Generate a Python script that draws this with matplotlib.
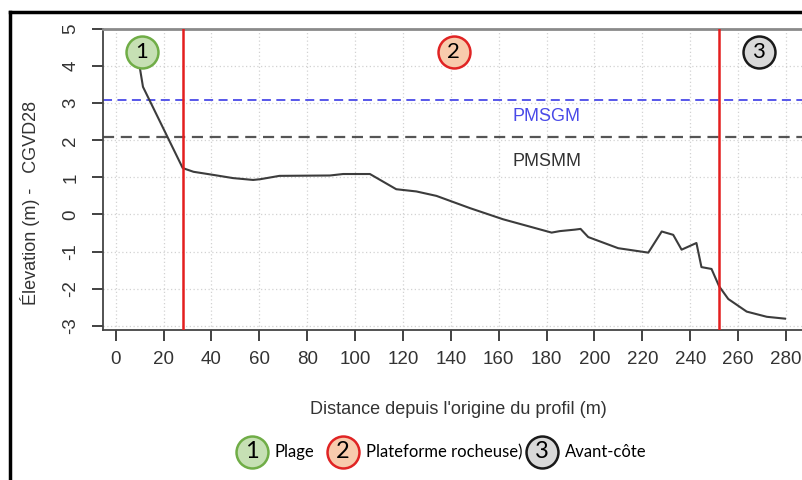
import matplotlib
matplotlib.use("Agg")
import matplotlib.pyplot as plt
from matplotlib.lines import Line2D

# profile
distance = [10.1, 11.4, 28.0, 32.5, 40.4, 49.0, 57.4, 60.4, 68.4, 89.5, 95.0, 106.2,
            117.2, 125.6, 134.0, 148.0, 161.8, 173.1, 182.1, 185.5, 191.8, 194.2,
            197.4, 209.9, 222.5, 228.1, 232.9, 236.4, 242.6, 244.7, 248.9, 252.1,
            255.9, 263.6, 272.0, 279.6]
elevation = [3.95, 3.44, 1.25, 1.15, 1.07, 0.98, 0.93, 0.95, 1.04, 1.05, 1.09, 1.09,
             0.68, 0.62, 0.50, 0.17, -0.13, -0.33, -0.49, -0.45, -0.41, -0.39,
             -0.61, -0.91, -1.03, -0.46, -0.55, -0.95, -0.77, -1.42, -1.47, -1.94,
             -2.28, -2.62, -2.76, -2.81]

zone_limits = [28, 252]
pmsgm = 3.09
pmsmm = 2.09

zone_numbers = ["1", "2", "3"]
zone_names = ["Plage", "Plateforme rocheuse)", "Avant-côte"]
zone_x = [11.0, 141.3, 268.7]
zone_y = 4.38
zone_fill = ["#c6e0b4", "#f8cbad", "#d9d9d9"]
zone_edge = ["#70ad47", "#e02424", "#1a1a1a"]

xticks = list(range(0, 281, 20))
yticks = list(range(-3, 6))

plt.rcParams['font.family'] = ['Liberation Sans', 'DejaVu Sans']
plt.rcParams['axes.unicode_minus'] = False

fig = plt.figure(figsize=(8.02, 4.8), dpi=100)
W, H = 802, 480
ax = fig.add_axes([103 / W, 1 - 330 / H, 1 - 103 / W, (330 - 29) / H])

ax.set_xlim(-5.3, 286.7)
ax.set_ylim(-3.116, 5.0)

# grid, dotted like R
for xv in xticks:
    ax.axvline(xv, color="#d2d2d2", lw=0.9, ls=(0, (1, 2)), zorder=0)
for yv in yticks:
    ax.axhline(yv, color="#d2d2d2", lw=0.9, ls=(0, (1, 2)), zorder=0)

ax.axhline(pmsgm, color="#4a4ae8", lw=1.3, ls=(0, (5, 3)), zorder=1)
ax.axhline(pmsmm, color="#555555", lw=1.6, ls=(0, (5, 3)), zorder=1)
ax.text(180, 2.65, "PMSGM", color="#4a4ae8", fontsize=13, ha="center", va="center")
ax.text(180, 1.42, "PMSMM", color="#333333", fontsize=13, ha="center", va="center")

ax.plot(distance, elevation, color="#3c3c3c", lw=1.5, zorder=3)

for xl in zone_limits:
    ax.axvline(xl, color="#e41e1e", lw=1.8, zorder=4)

for num, xz, fc, ec in zip(zone_numbers, zone_x, zone_fill, zone_edge):
    ax.plot(xz, zone_y, "o", ms=23, mfc=fc, mec=ec, mew=1.8, zorder=5, clip_on=False)
    ax.text(xz, zone_y, num, fontsize=16, ha="center", va="center", zorder=6,
            family=["Lato", "DejaVu Sans"])

ax.set_xticks(xticks)
ax.set_yticks(yticks)
ax.tick_params(axis="both", labelsize=13.5, colors="#333333", length=8, width=1.3)
ax.tick_params(axis="x", pad=7)
ax.tick_params(axis="y", labelrotation=90, pad=9)
for lab in ax.get_yticklabels():
    lab.set_va("center")

ax.spines["right"].set_visible(False)
ax.spines["top"].set_color("#8a8a8a")
ax.spines["top"].set_linewidth(2)
ax.spines["left"].set_color("#444444")
ax.spines["bottom"].set_color("#444444")
ax.spines["left"].set_linewidth(1.3)
ax.spines["bottom"].set_linewidth(1.3)

fig.text(30 / W, 1 - 203 / H, "Élevation (m) -   CGVD28", rotation=90,
         fontsize=13, color="#333333", ha="center", va="center")
fig.text(458 / W, 1 - 410 / H, "Distance depuis l'origine du profil (m)",
         fontsize=13, color="#333333", ha="center", va="center")

# legend row under the chart
leg_circle_x = [252, 343, 542]
leg_y = 1 - 452 / H
for num, name, cx, fc, ec in zip(zone_numbers, zone_names, leg_circle_x, zone_fill, zone_edge):
    fig.add_artist(Line2D([cx / W], [leg_y], marker="o", ms=23, mfc=fc, mec=ec, mew=1.8,
                          transform=fig.transFigure))
    fig.text(cx / W, leg_y, num, fontsize=17, ha="center", va="center",
             family=["Lato", "DejaVu Sans"])
    fig.text((cx + 23) / W, leg_y, name, fontsize=12, ha="left", va="center",
             family=["Lato", "DejaVu Sans"])

# black frame of the original picture
fig.add_artist(Line2D([10 / W, 10 / W], [0, 1 - 12 / H], color="black", lw=2.5,
                      transform=fig.transFigure))
fig.add_artist(Line2D([10 / W, 1], [1 - 12 / H, 1 - 12 / H], color="black", lw=2.5,
                      transform=fig.transFigure))

fig.savefig("out.png", dpi=100)
